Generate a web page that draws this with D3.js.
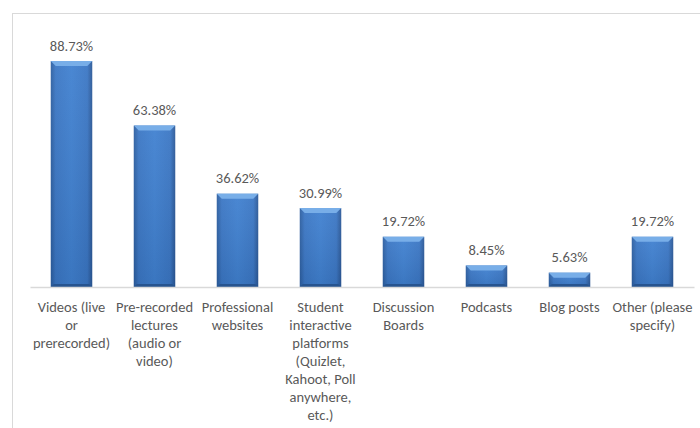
<!DOCTYPE html>
<html>
<head>
<meta charset="utf-8">
<script src="https://cdn.jsdelivr.net/npm/d3@7"></script>
<style>
  html, body { margin: 0; padding: 0; background: #fff; }
  svg { display: block; }
</style>
</head>
<body>
<svg id="chart" width="700" height="428"></svg>
<script>
// Share of respondents using each type of resource (%)
const categories = [
  "Videos (live\nor\nprerecorded)",
  "Pre-recorded\nlectures\n(audio or\nvideo)",
  "Professional\nwebsites",
  "Student\ninteractive\nplatforms\n(Quizlet,\nKahoot, Poll\nanywhere,\netc.)",
  "Discussion\nBoards",
  "Podcasts",
  "Blog posts",
  "Other (please\nspecify)"
];
const values = [88.73, 63.38, 36.62, 30.99, 19.72, 8.45, 5.63, 19.72];

const W = 700, H = 428;
const svg = d3.select("#chart");
const font = "Carlito, Calibri, Lato, 'Noto Sans', sans-serif";
const fontSize = 14.5;

// chart area frame
svg.append("rect")
  .attr("x", 12.5).attr("y", 13.5)
  .attr("width", W + 20).attr("height", H + 20)
  .attr("fill", "#fff").attr("stroke", "#d9d9d9").attr("stroke-width", 1);

const x = d3.scaleBand()
  .domain(d3.range(categories.length))
  .range([30, 694])
  .paddingInner(0.5)
  .paddingOuter(0.25);

const y = d3.scaleLinear().domain([0, 100]).range([287, 287 - 254.7]);

// gradients for bevelled bars
const defs = svg.append("defs");
const side = defs.append("linearGradient").attr("id", "barFill")
  .attr("x1", "0").attr("x2", "1").attr("y1", "0").attr("y2", "0");
side.append("stop").attr("offset", "0").attr("stop-color", "#2b5d9f");
side.append("stop").attr("offset", "0.12").attr("stop-color", "#3a76c4");
side.append("stop").attr("offset", "0.5").attr("stop-color", "#3f80d0");
side.append("stop").attr("offset", "0.88").attr("stop-color", "#3a76c4");
side.append("stop").attr("offset", "1").attr("stop-color", "#2a5796");

const vert = defs.append("linearGradient").attr("id", "barShade")
  .attr("x1", "0").attr("x2", "0").attr("y1", "0").attr("y2", "1");
vert.append("stop").attr("offset", "0").attr("stop-color", "#fff").attr("stop-opacity", 0.06);
vert.append("stop").attr("offset", "1").attr("stop-color", "#000").attr("stop-opacity", 0.08);

const bars = svg.append("g").selectAll("g.bar")
  .data(values)
  .join("g").attr("class", "bar");

bars.append("rect")
  .attr("x", (d, i) => x(i))
  .attr("y", d => y(d))
  .attr("width", x.bandwidth())
  .attr("height", d => y(0) - y(d))
  .attr("fill", "url(#barFill)");

bars.append("rect")
  .attr("x", (d, i) => x(i))
  .attr("y", d => y(d))
  .attr("width", x.bandwidth())
  .attr("height", d => y(0) - y(d))
  .attr("fill", "url(#barShade)");

// top bevel
const bev = 5;
bars.append("path")
  .attr("d", (d, i) => {
    const x0 = x(i), x1 = x(i) + x.bandwidth(), t = y(d);
    return `M${x0},${t}L${x1},${t}L${x1 - bev},${t + bev}L${x0 + bev},${t + bev}Z`;
  })
  .attr("fill", "#78aee8");

// bottom bevel
bars.append("path")
  .attr("d", (d, i) => {
    const x0 = x(i), x1 = x(i) + x.bandwidth(), b = y(0);
    return `M${x0},${b}L${x1},${b}L${x1 - 3},${b - 3}L${x0 + 3},${b - 3}Z`;
  })
  .attr("fill", "#27548f");

// value labels
svg.append("g").selectAll("text")
  .data(values)
  .join("text")
  .attr("x", (d, i) => x(i) + x.bandwidth() / 2)
  .attr("y", d => y(d) - 10.5)
  .attr("text-anchor", "middle")
  .attr("font-family", font)
  .attr("font-size", fontSize)
  .attr("fill", "#595959")
  .text(d => d.toFixed(2) + "%");

// category axis
const axis = svg.append("g").attr("transform", "translate(0,287)")
  .call(d3.axisBottom(x).tickSize(0).tickFormat(""));
axis.select(".domain").attr("stroke", "#d9d9d9").attr("stroke-width", 1.5);

const lab = svg.append("g").selectAll("text")
  .data(categories)
  .join("text")
  .attr("x", (d, i) => x(i) + x.bandwidth() / 2)
  .attr("y", 312)
  .attr("text-anchor", "middle")
  .attr("font-family", font)
  .attr("font-size", fontSize)
  .attr("fill", "#595959");
lab.each(function(d) {
  const t = d3.select(this);
  const cx = t.attr("x");
  d.split("\n").forEach((line, k) => {
    t.append("tspan").attr("x", cx).attr("y", 312 + k * 18).text(line);
  });
});
</script>
</body>
</html>
